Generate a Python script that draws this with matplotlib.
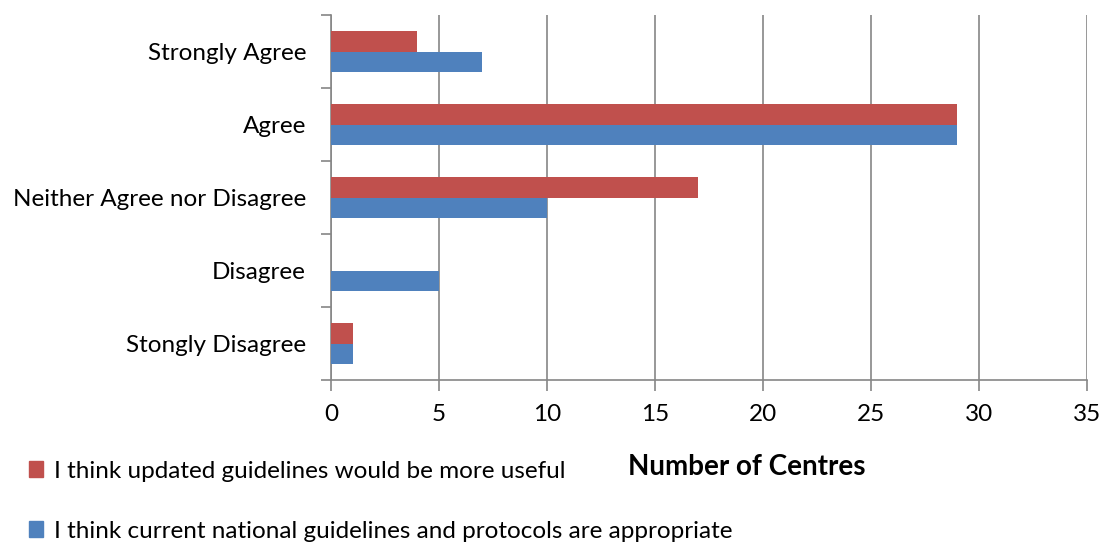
import numpy as np
import matplotlib.pyplot as plt
from matplotlib.patches import Patch

categories = ['Stongly Disagree', 'Disagree', 'Neither Agree nor Disagree', 'Agree', 'Strongly Agree']
updated_useful = [1, 0, 17, 29, 4]
current_appropriate = [1, 5, 10, 29, 7]
series_labels = ['I think updated guidelines would be more useful',
                 'I think current national guidelines and protocols are appropriate']

red = '#c0504d'
blue = '#4f81bd'
grey = '#868686'

plt.rcParams['font.family'] = ['Lato', 'DejaVu Sans']

fig = plt.figure(figsize=(11.07, 5.45), dpi=100)
ax = fig.add_axes([331 / 1107, 165 / 545, 756 / 1107, 365 / 545])

y = np.arange(len(categories))
h = 0.285
ax.barh(y - h / 2, current_appropriate, height=h, color=blue, zorder=3)
ax.barh(y + h / 2, updated_useful, height=h, color=red, zorder=3)

ax.set_xlim(0, 35)
ax.set_ylim(-0.5, len(categories) - 0.5)
ax.set_xticks(np.arange(0, 36, 5))
ax.set_yticks(y)
ax.set_yticklabels(categories)
ax.set_yticks(np.arange(-0.5, len(categories), 1), minor=True)
ax.tick_params(axis='y', which='major', length=0, pad=18, labelsize=17.5)
ax.tick_params(axis='y', which='minor', length=7, width=1.2, color=grey)
ax.tick_params(axis='x', length=8, width=1.2, color=grey, labelsize=17.5, pad=9)
ax.grid(axis='x', color=grey, linewidth=1.2, zorder=0)

for s in ['top', 'right']:
    ax.spines[s].set_visible(False)
for s in ['left', 'bottom']:
    ax.spines[s].set_color(grey)
    ax.spines[s].set_linewidth(1.2)

fig.text(747 / 1107, 1 - 467 / 545, 'Number of Centres', ha='center', va='center',
         fontsize=20, fontweight='bold')

handles = [Patch(color=red), Patch(color=blue)]
fig.legend(handles, series_labels, loc='upper left', bbox_to_anchor=(19 / 1107, 1 - 451 / 545),
           frameon=False, fontsize=17.5, handlelength=0.6, handleheight=0.6, handletextpad=0.45,
           labelspacing=1.6, borderaxespad=0)

fig.savefig('out.png', dpi=100)
